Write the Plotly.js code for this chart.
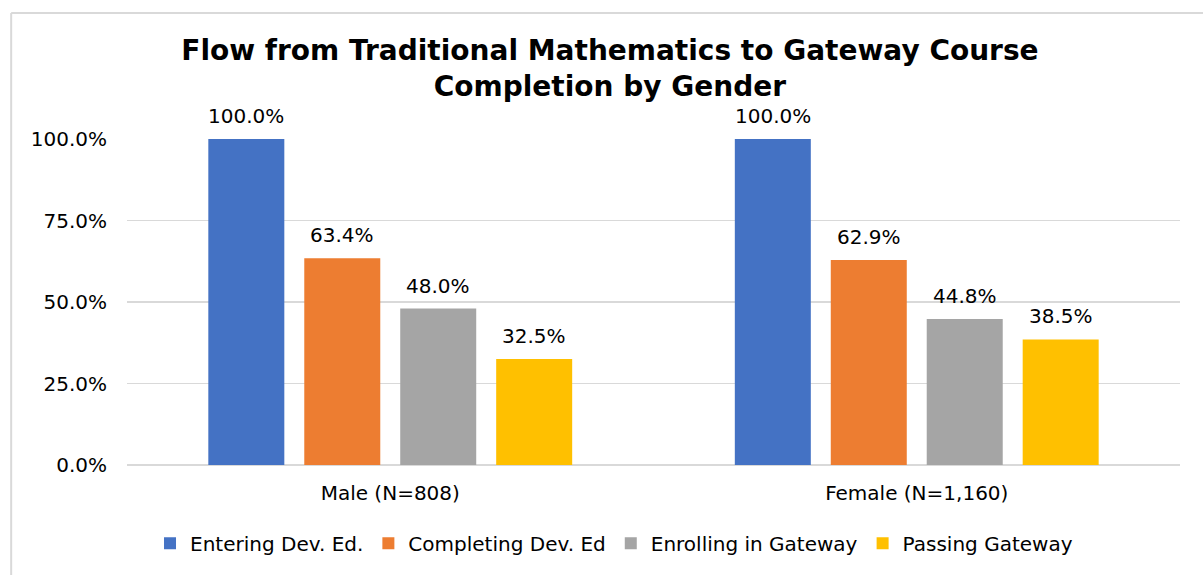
<!DOCTYPE html>
<html>
<head>
<meta charset="utf-8">
<script src="https://cdn.plot.ly/plotly-3.0.1.min.js"></script>
<style>
html,body{margin:0;padding:0;background:#fff;}
#chart{width:1203px;height:575px;}
</style>
</head>
<body>
<div id="chart"></div>
<script>
const categories = ["Male (N=808)", "Female (N=1,160)"];
const seriesNames = ["Entering Dev. Ed.", "Completing Dev. Ed", "Enrolling in Gateway", "Passing Gateway"];
const entering = [1.000, 1.000];
const completing = [0.634, 0.629];
const enrolling = [0.480, 0.448];
const passing = [0.325, 0.385];
const colors = ["#4472C4", "#ED7D31", "#A5A5A5", "#FFC000"];
const yTicks = [0, 0.25, 0.5, 0.75, 1.0];

const seriesValues = [entering, completing, enrolling, passing];
const labelFont = {family: "DejaVu Sans, sans-serif", size: 20, color: "#000"};

const traces = seriesValues.map((vals, i) => ({
  type: "bar",
  name: seriesNames[i],
  x: categories,
  y: vals,
  marker: {color: colors[i]},
  hoverinfo: "none"
}));

// value labels above bars (positioned via axis data coords, shifted to each bar slot)
const slotPx = 96;
const annotations = [];
seriesValues.forEach((vals, i) => {
  vals.forEach((v, j) => {
    annotations.push({
      x: categories[j], y: v, xref: "x", yref: "y",
      xshift: (i - 1.5) * slotPx, yshift: 9,
      yanchor: "bottom", xanchor: "center",
      text: (v * 100).toFixed(1) + "%",
      showarrow: false,
      font: labelFont
    });
  });
});

const layout = {
  width: 1203,
  height: 575,
  paper_bgcolor: "#fff",
  plot_bgcolor: "#fff",
  margin: {l: 127, r: 23, t: 139, b: 110},
  barmode: "group",
  bargap: 0.271,
  bargroupgap: 0.208,
  title: {
    text: "Flow from Traditional Mathematics to Gateway Course<br>Completion by Gender",
    font: {family: "DejaVu Sans, sans-serif", size: 28, color: "#000", weight: "bold"},
    x: 0.507, xref: "container", xanchor: "center",
    y: 1 - 60/575, yref: "container", yanchor: "top"
  },
  xaxis: {
    showgrid: false,
    showline: false,
    zeroline: false,
    ticks: "",
    tickfont: labelFont,
    ticklabelstandoff: 14
  },
  yaxis: {
    range: [0, 1],
    tickvals: yTicks,
    tickformat: ".1%",
    tickfont: labelFont,
    showgrid: true,
    gridcolor: "#D9D9D9",
    gridwidth: 1.5,
    zeroline: true,
    zerolinecolor: "#D9D9D9",
    zerolinewidth: 1.5,
    showline: false,
    ticks: "",
    ticklabelstandoff: 19
  },
  showlegend: true,
  legend: {
    orientation: "h",
    x: 0.4625, xanchor: "center",
    y: -0.24, yanchor: "middle",
    font: labelFont,
    itemwidth: 30,
    traceorder: "normal"
  },
  annotations: annotations,
  shapes: [
    {type: "line", xref: "paper", yref: "paper", x0: -0.110, x1: -0.110, y0: -0.4, y1: 1.3865,
     line: {color: "#D9D9D9", width: 2}},
    {type: "line", xref: "paper", yref: "paper", x0: -0.110, x1: 1.1, y0: 1.3865, y1: 1.3865,
     line: {color: "#D9D9D9", width: 2}}
  ]
};

Plotly.newPlot("chart", traces, layout, {displayModeBar: false, staticPlot: true});
</script>
</body>
</html>
